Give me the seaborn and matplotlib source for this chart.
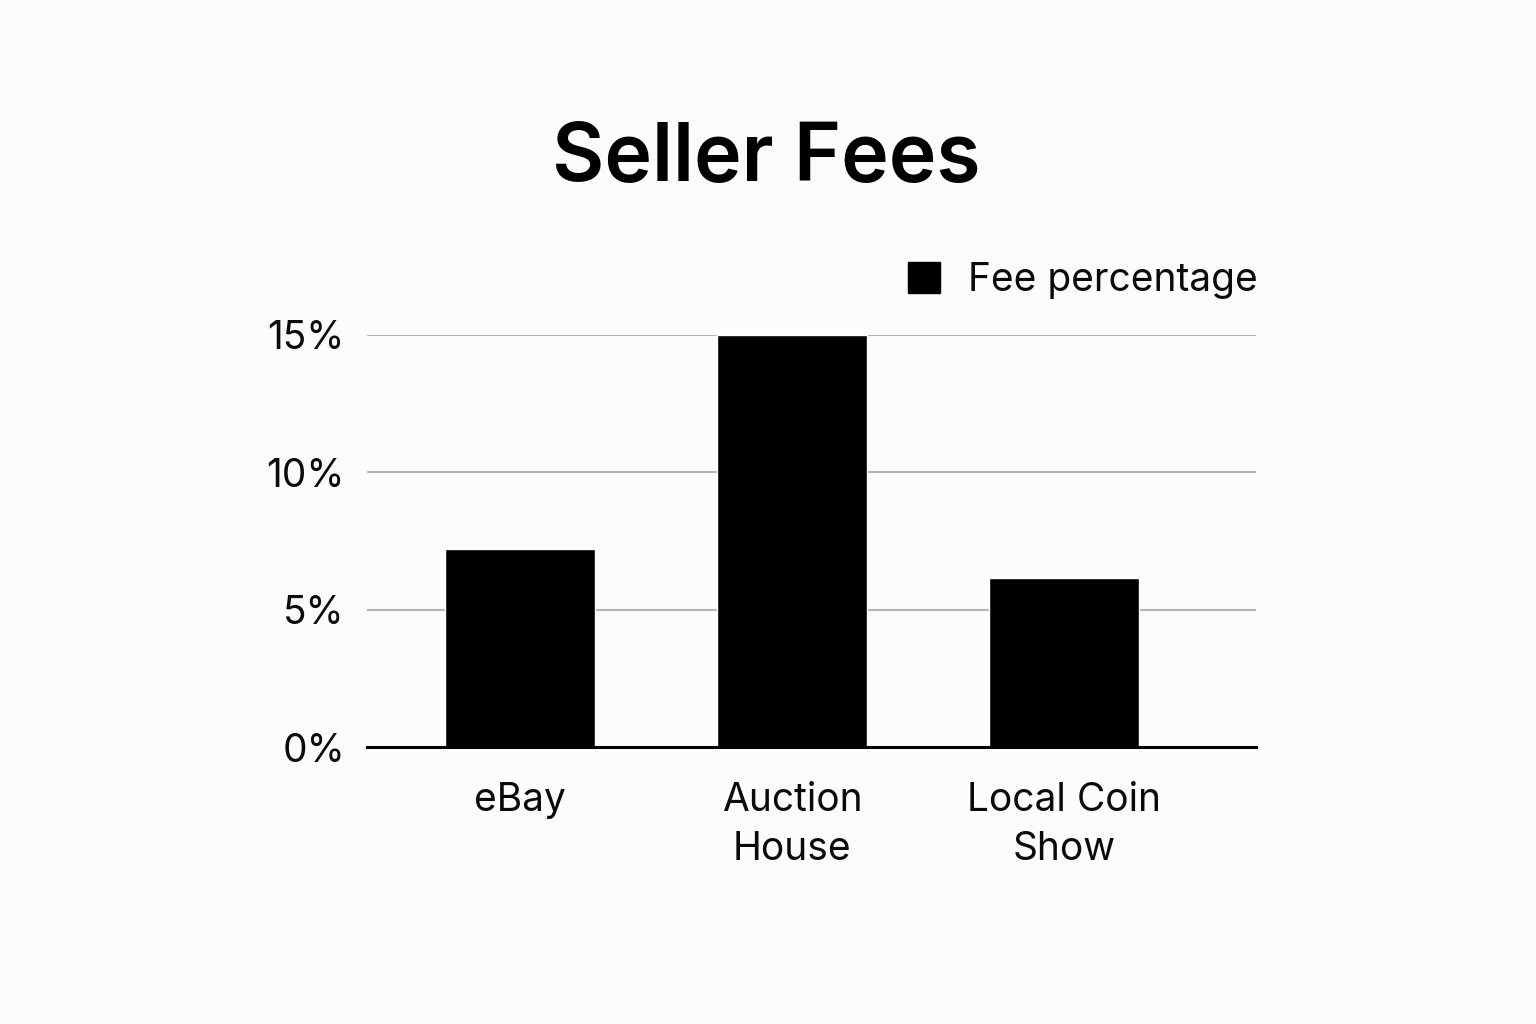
import matplotlib
matplotlib.use("Agg")
import matplotlib.pyplot as plt
import seaborn as sns
import pandas as pd
from matplotlib.patches import Patch
from matplotlib.ticker import FuncFormatter

categories = ["eBay", "Auction\nHouse", "Local Coin\nShow"]
fee_pct = [7.2, 15.0, 6.15]
series_name = "Fee percentage"
y_ticks = [0, 5, 10, 15]

sns.set_theme(style="white")
plt.rcParams['font.family'] = ['Inter', 'DejaVu Sans']

bg = "#fcfcfa"
fig = plt.figure(figsize=(15.36, 10.24), dpi=100, facecolor=bg)
ax = fig.add_axes([0.239, 0.2705, 0.5787, 0.4024])
ax.set_facecolor(bg)

df = pd.DataFrame({"cat": categories, "val": fee_pct})
sns.barplot(data=df, x="cat", y="val", color="black", width=0.55,
            saturation=1, ax=ax, zorder=3)

ax.set_xlim(-0.5625, 2.706)
ax.set_ylim(0, 15)
ax.set_yticks(y_ticks)
ax.yaxis.set_major_formatter(FuncFormatter(lambda v, p: f"{int(v)}%"))
ax.grid(axis="y", color="#b5b5b5", linewidth=1.5, zorder=0)
ax.grid(axis="x", visible=False)
for s in ["top", "right", "left"]:
    ax.spines[s].set_visible(False)
ax.spines["bottom"].set_color("black")
ax.spines["bottom"].set_linewidth(2.2)
ax.spines["bottom"].set_zorder(4)
ax.tick_params(axis="both", length=0, labelsize=28, colors="#0a0a0a")
ax.tick_params(axis="x", pad=25)
ax.tick_params(axis="y", pad=16)
for lbl in ax.get_xticklabels():
    lbl.set_linespacing(1.42)
ax.set_xlabel("")
ax.set_ylabel("")

fig.text(0.499, 0.844, "Seller Fees", ha="center", va="center",
         fontsize=58, fontweight="semibold", color="black")

handle = Patch(facecolor="black", edgecolor="black", label=series_name)
fig.legend(handles=[handle], loc="center right", bbox_to_anchor=(0.819, 0.726),
           frameon=False, fontsize=28, handlelength=0.82, handleheight=0.82,
           handletextpad=0.72, borderpad=0, borderaxespad=0, labelcolor="#0a0a0a")

fig.savefig("out.png", dpi=100, facecolor=bg)
